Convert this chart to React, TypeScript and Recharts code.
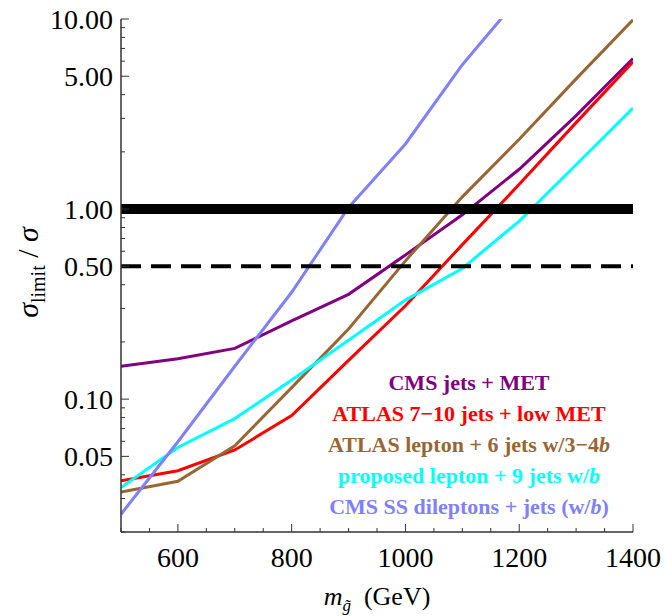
import { LineChart, Line, XAxis, YAxis, ReferenceLine, Legend } from "recharts"

// gluino mass (GeV)
const masses = [500, 600, 700, 800, 900, 1000, 1100, 1200, 1300, 1400]

// sigma_limit / sigma for each search
const cmsJetsMet = [0.149, 0.163, 0.185, 0.258, 0.356, 0.574, 0.933, 1.62, 3.1, 6.2]
const atlasMultijet = [0.0372, 0.042, 0.054, 0.082, 0.16, 0.31, 0.65, 1.35, 2.85, 5.95]
const atlasLepton = [0.0325, 0.037, 0.0568, 0.115, 0.234, 0.534, 1.16, 2.33, 4.84, 9.9]
const proposed = [0.0343, 0.0557, 0.079, 0.126, 0.204, 0.332, 0.487, 0.864, 1.71, 3.4]
const cmsSameSign = [0.0248, 0.0597, 0.149, 0.365, 1.02, 2.2, 5.75, 13, null, null]

const xTicks = [500, 550, 600, 650, 700, 750, 800, 850, 900, 950, 1000, 1050, 1100, 1150, 1200, 1250, 1300, 1350, 1400]
const xLabels = [600, 800, 1000, 1200, 1400]
const yTicks = [
  0.02, 0.03, 0.04, 0.05, 0.06, 0.07, 0.08, 0.09, 0.1, 0.2, 0.3, 0.4, 0.5, 0.6, 0.7, 0.8, 0.9, 1, 2, 3, 4, 5, 6, 7, 8, 9, 10,
]
const yLabels = [0.05, 0.1, 0.5, 1, 5, 10]

const series = [
  { key: "cmsJetsMet", name: "CMS jets + MET", color: "#800080", values: cmsJetsMet },
  { key: "atlasMultijet", name: "ATLAS 7\u221210 jets + low MET", color: "#ff0000", values: atlasMultijet },
  { key: "atlasLepton", name: "ATLAS lepton + 6 jets w/3\u22124b", color: "#996633", values: atlasLepton },
  { key: "proposed", name: "proposed lepton + 9 jets w/b", color: "#00ffff", values: proposed },
  { key: "cmsSameSign", name: "CMS SS dileptons + jets (w/b)", color: "#8080ff", values: cmsSameSign },
]

const data = masses.map((m, i) => {
  const row: Record<string, number | null> = { m }
  series.forEach((s) => {
    row[s.key] = s.values[i]
  })
  return row
})

const SERIF = "Liberation Serif, DejaVu Serif, serif"
const FRAME = "#333"
const GAP = 8

function LeftTick({ x, y, payload }: any) {
  const major = yLabels.includes(payload.value)
  const ax = x + GAP
  return (
    <g>
      <line x1={ax} x2={ax + (major ? 8 : 4)} y1={y} y2={y} stroke={FRAME} strokeWidth={1} />
      {major && (
        <text x={x} y={y} dy="0.34em" textAnchor="end" style={{ fontFamily: SERIF }} fontSize={28} fill="#000">
          {payload.value.toFixed(2)}
        </text>
      )}
    </g>
  )
}

function RightTick({ x, y, payload }: any) {
  const major = yLabels.includes(payload.value)
  const ax = x - GAP
  return <line x1={ax} x2={ax - (major ? 8 : 4)} y1={y} y2={y} stroke={FRAME} strokeWidth={1} />
}

function BottomTick({ x, y, payload }: any) {
  const major = xLabels.includes(payload.value)
  const ay = y - GAP
  return (
    <g>
      <line x1={x} x2={x} y1={ay} y2={ay - (major ? 8 : 4)} stroke={FRAME} strokeWidth={1} />
      {major && (
        <text x={x} y={ay + 35} textAnchor="middle" style={{ fontFamily: SERIF }} fontSize={28} fill="#000">
          {payload.value}
        </text>
      )}
    </g>
  )
}

function TopTick({ x, y, payload }: any) {
  const major = xLabels.includes(payload.value)
  const ay = y + GAP
  return <line x1={x} x2={x} y1={ay} y2={ay + (major ? 8 : 4)} stroke={FRAME} strokeWidth={1} />
}

function MassTitle({ viewBox }: any) {
  const cx = viewBox.x + viewBox.width / 2
  return (
    <text x={cx} y={viewBox.y + 73} textAnchor="middle" style={{ fontFamily: SERIF }} fontSize={26} fill="#000">
      <tspan fontStyle="italic">m</tspan>
      <tspan fontStyle="italic" fontSize={17} dy={6}>
        g&#771;
      </tspan>
      <tspan dy={-6}>{"\u00a0\u00a0(GeV)"}</tspan>
    </text>
  )
}

function LimitTitle({ viewBox }: any) {
  const x = viewBox.x + 38
  const y = viewBox.y + viewBox.height / 2 - 3
  return (
    <text
      transform={`translate(${x},${y}) rotate(-90)`}
      textAnchor="middle"
      style={{ fontFamily: SERIF }}
      fontSize={30}
      fill="#000"
    >
      <tspan fontStyle="italic">σ</tspan>
      <tspan fontSize={20} dy={7}>
        limit
      </tspan>
      <tspan dy={-7}>{"\u00a0/\u00a0"}</tspan>
      <tspan fontStyle="italic">σ</tspan>
    </text>
  )
}

function withItalicB(name: string) {
  if (!name.includes("w/")) return name
  const i = name.lastIndexOf("b")
  return (
    <>
      {name.slice(0, i)}
      <i>b</i>
      {name.slice(i + 1)}
    </>
  )
}

function SearchLegend({ payload }: any) {
  const items = [...(payload || [])].sort(
    (a: any, b: any) => series.findIndex((s) => s.name === a.value) - series.findIndex((s) => s.name === b.value)
  )
  return (
    <div style={{ textAlign: "center", fontFamily: SERIF, fontWeight: "bold", fontSize: 22, lineHeight: "31px" }}>
      {items.map((e: any) => (
        <div key={e.value} style={{ color: e.color, whiteSpace: "nowrap" }}>
          {withItalicB(e.value)}
        </div>
      ))}
    </div>
  )
}

export default function App() {
  return (
    <div style={{ position: "absolute", left: 0, top: 0, background: "#fff" }}>
      <LineChart width={664} height={616} data={data} margin={{ top: 19, right: 31, bottom: 0, left: 0 }}>
        <XAxis
          dataKey="m"
          type="number"
          domain={[500, 1400]}
          allowDataOverflow
          ticks={xTicks}
          interval={0}
          tickSize={0}
          tickMargin={GAP}
          height={84}
          axisLine={{ stroke: FRAME, strokeWidth: 1.5 }}
          tick={(p: any) => <BottomTick {...p} />}
          label={<MassTitle />}
        />
        <XAxis
          xAxisId="top"
          orientation="top"
          type="number"
          domain={[500, 1400]}
          allowDataOverflow
          ticks={xTicks}
          interval={0}
          tickSize={0}
          tickMargin={GAP}
          height={0}
          axisLine={{ stroke: FRAME, strokeWidth: 1.5 }}
          tick={(p: any) => <TopTick {...p} />}
        />
        <YAxis
          type="number"
          scale="log"
          domain={[0.02, 10]}
          allowDataOverflow
          ticks={yTicks}
          interval={0}
          tickSize={0}
          tickMargin={GAP}
          width={121}
          axisLine={{ stroke: FRAME, strokeWidth: 1.5 }}
          tick={(p: any) => <LeftTick {...p} />}
          label={<LimitTitle />}
        />
        <YAxis
          yAxisId="right"
          orientation="right"
          type="number"
          scale="log"
          domain={[0.02, 10]}
          allowDataOverflow
          ticks={yTicks}
          interval={0}
          tickSize={0}
          tickMargin={GAP}
          width={0}
          axisLine={{ stroke: FRAME, strokeWidth: 1.5 }}
          tick={(p: any) => <RightTick {...p} />}
        />
        {series.map((s) => (
          <Line
            key={s.key}
            dataKey={s.key}
            name={s.name}
            stroke={s.color}
            strokeWidth={3}
            dot={false}
            type="linear"
            isAnimationActive={false}
          />
        ))}
        <ReferenceLine y={1} stroke="#000" strokeWidth={10} />
        <ReferenceLine y={0.5} stroke="#000" strokeWidth={4} strokeDasharray="20 10" />
        <Legend
          layout="vertical"
          align="center"
          verticalAlign="middle"
          wrapperStyle={{ left: 309, top: 367, width: 320 }}
          content={(p: any) => <SearchLegend {...p} />}
        />
      </LineChart>
    </div>
  )
}
